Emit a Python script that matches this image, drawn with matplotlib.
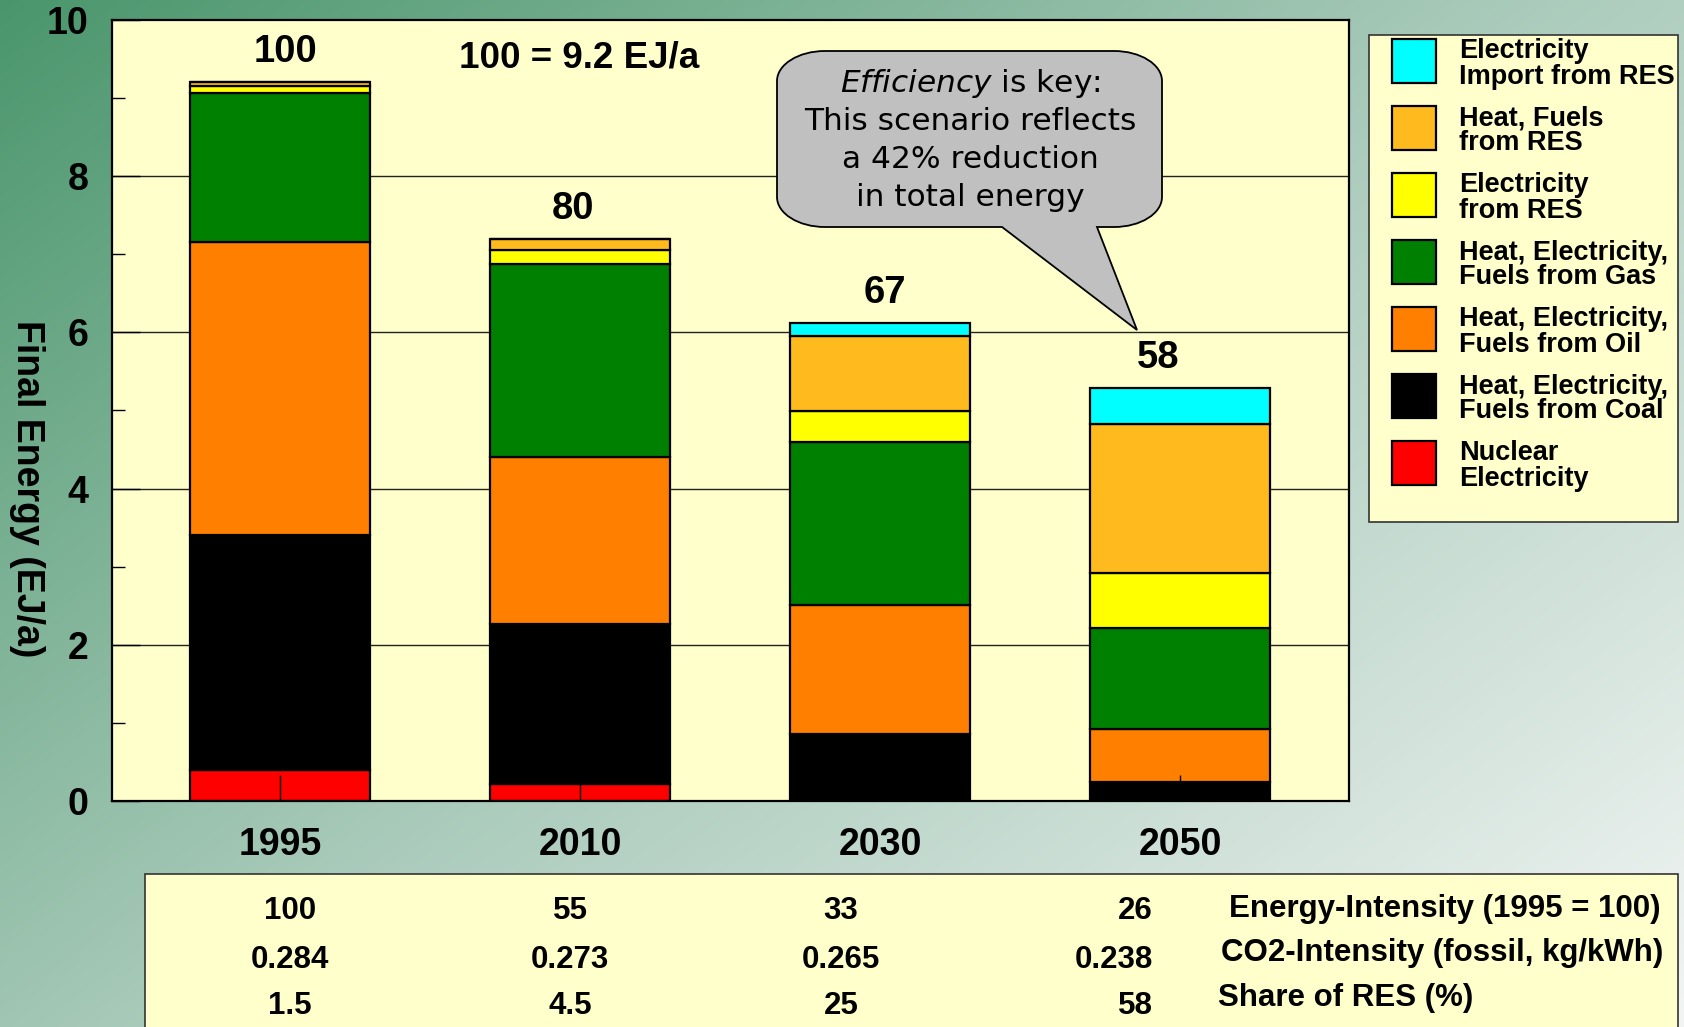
import numpy as np
import matplotlib
matplotlib.use('Agg')
import matplotlib.pyplot as plt
from matplotlib.patches import Rectangle, PathPatch
from matplotlib.path import Path

plt.rcParams['font.family'] = 'Liberation Sans'
plt.rcParams['font.weight'] = 'bold'
plt.rcParams['axes.labelweight'] = 'bold'
plt.rcParams['mathtext.fontset'] = 'custom'
plt.rcParams['mathtext.it'] = 'DejaVu Sans:style=italic:weight=normal'
plt.rcParams['mathtext.rm'] = 'DejaVu Sans:weight=normal'

W, H = 1684, 1027

years = ['1995', '2010', '2030', '2050']
index_labels = ['100', '80', '67', '58']

# final energy in EJ/a, stacked bottom -> top
nuclear = [0.40, 0.22, 0.00, 0.00]
coal = [3.01, 2.05, 0.86, 0.24]
oil = [3.75, 2.14, 1.65, 0.68]
gas = [1.91, 2.46, 2.09, 1.30]
elec_res = [0.08, 0.18, 0.40, 0.70]
heat_res = [0.06, 0.15, 0.95, 1.91]
import_res = [0.00, 0.00, 0.17, 0.46]

series = [nuclear, coal, oil, gas, elec_res, heat_res, import_res]
names = ['Nuclear\nElectricity',
         'Heat, Electricity,\nFuels from Coal',
         'Heat, Electricity,\nFuels from Oil',
         'Heat, Electricity,\nFuels from Gas',
         'Electricity\nfrom RES',
         'Heat, Fuels\nfrom RES',
         'Electricity\nImport from RES']
colors = ['#FF0000', '#000000', '#FF8000', '#008000', '#FFFF00', '#FFBB1E', '#00FFFF']

table_rows = ['Energy-Intensity (1995 = 100)',
              'CO2-Intensity (fossil, kg/kWh)',
              'Share of RES (%)']
energy_intensity = ['100', '55', '33', '26']
co2_intensity = ['0.284', '0.273', '0.265', '0.238']
res_share = ['1.5', '4.5', '25', '58']
table_vals = [energy_intensity, co2_intensity, res_share]

callout = ['is key:', 'This scenario reflects', 'a 42% reduction', 'in total energy']

fig = plt.figure(figsize=(W/100, H/100), dpi=100)

# background gradient
bg = fig.add_axes([0, 0, 1, 1], zorder=-2)
yy, xx = np.mgrid[0:1:240j, 0:1:400j]
t = 0.55*xx + 0.45*yy
stops = np.array([[74, 150, 108], [170, 203, 187], [242, 245, 244]])/255.
rgb = np.stack([np.interp(t, [0, 0.5, 1], stops[:, k]) for k in range(3)], axis=-1)
bg.imshow(rgb, aspect='auto', interpolation='bilinear')
bg.axis('off')

# main chart
ax = fig.add_axes([112/W, 1-801/H, 1237/W, 781/H])
ax.set_facecolor('#FFFFCC')
x = np.arange(len(years))
bottom = np.zeros(len(years))
for vals, c, n in zip(series, colors, names):
    ax.bar(x, vals, 0.6, bottom=bottom, color=c, edgecolor='black', linewidth=1.6, label=n, zorder=2)
    bottom += np.array(vals)

for yv in [2, 4, 6, 8]:
    ax.axhline(yv, color='#222222', lw=1, zorder=1)

lab_dx = [0.017, -0.023, 0.017, -0.073]
for i, lab in enumerate(index_labels):
    ax.text(x[i]+lab_dx[i], bottom[i]+0.38, lab, ha='center', va='center', fontsize=27.5)

ax.set_xlim(-0.56, 3.563)
ax.set_ylim(0, 10)
ax.set_xticks(x)
ax.set_xticklabels(years)
ax.set_yticks(range(0, 11, 2))
ax.set_yticks(range(1, 10, 2), minor=True)
ax.tick_params(axis='y', which='major', direction='in', length=20, width=1, labelsize=27, pad=17)
ax.tick_params(axis='y', which='minor', direction='in', length=9, width=1)
ax.tick_params(axis='x', direction='in', length=19, width=1, labelsize=27, pad=19)
ax.set_axisbelow(False)
for s in ax.spines.values():
    s.set_linewidth(1.6)
ax.set_ylabel('Final Energy (EJ/a)', fontsize=27, rotation=270, va='center', ha='center')
ax.yaxis.set_label_coords(-0.069, 0.40)

# overlay in pixel coordinates
ov = fig.add_axes([0, 0, 1, 1], zorder=3)
ov.set_xlim(0, W)
ov.set_ylim(H, 0)
ov.axis('off')

ov.text(579, 58, '100 = 9.2 EJ/a', ha='center', va='center', fontsize=26.5)

# callout bubble
x0, x1, y0, y1 = 777, 1162, 51, 227
rx, ry = 48, 30
k = 0.5523
verts = [(x0+rx, y0), (x1-rx, y0),
         (x1-rx+k*rx, y0), (x1, y0+ry-k*ry), (x1, y0+ry),
         (x1, y1-ry),
         (x1, y1-ry+k*ry), (x1-rx+k*rx, y1), (x1-rx, y1),
         (1097, y1), (1137, 330), (1002, y1),
         (x0+rx, y1),
         (x0+rx-k*rx, y1), (x0, y1-ry+k*ry), (x0, y1-ry),
         (x0, y0+ry),
         (x0, y0+ry-k*ry), (x0+rx-k*rx, y0), (x0+rx, y0)]
codes = [Path.MOVETO, Path.LINETO,
         Path.CURVE4, Path.CURVE4, Path.CURVE4,
         Path.LINETO,
         Path.CURVE4, Path.CURVE4, Path.CURVE4,
         Path.LINETO, Path.LINETO, Path.LINETO,
         Path.LINETO,
         Path.CURVE4, Path.CURVE4, Path.CURVE4,
         Path.LINETO,
         Path.CURVE4, Path.CURVE4, Path.CURVE4]
ov.add_patch(PathPatch(Path(verts, codes), fc='#C0C0C0', ec='black', lw=1.3))
line_y = [83, 122, 160, 198]
ov.text(970, line_y[0], r'$\mathit{Efficiency}$ ' + callout[0], ha='center', va='center',
        fontsize=22.5, family='DejaVu Sans', fontweight='normal')
for ly, s in zip(line_y[1:], callout[1:]):
    ov.text(970, ly, s, ha='center', va='center', fontsize=22.5, family='DejaVu Sans', fontweight='normal')

# legend box
ov.add_patch(Rectangle((1369, 35), 309, 487, fc='#FFFFCC', ec='#333333', lw=1.2))
for i, (n, c) in enumerate(zip(names[::-1], colors[::-1])):
    cy = 61 + 67*i
    ov.add_patch(Rectangle((1392, cy-22), 44, 44, fc=c, ec='black', lw=1.6))
    ov.text(1459, cy+3, n, ha='left', va='center', fontsize=19.5, linespacing=0.95)

# indicator table
ov.add_patch(Rectangle((145, 874), 1533, 200, fc='#FFFFCC', ec='#333333', lw=1.2))
col_x = [290, 570, 841, 1153]
col_ha = ['center', 'center', 'center', 'right']
num_y = [911, 960, 1006]
lab_x = [1229, 1221, 1218]
lab_y = [909, 953, 998]
for r, vals in enumerate(table_vals):
    for c, v in enumerate(vals):
        ov.text(col_x[c], num_y[r], v, ha=col_ha[c], va='center', fontsize=22.5)
    ov.text(lab_x[r], lab_y[r], table_rows[r], ha='left', va='center', fontsize=22.5)

fig.savefig('out.png', dpi=100)
